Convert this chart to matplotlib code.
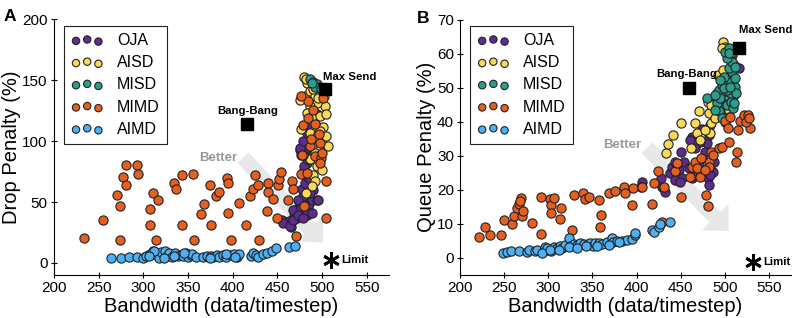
import matplotlib
matplotlib.use("Agg")
import matplotlib.pyplot as plt
import numpy as np
from matplotlib.patches import FancyArrowPatch

plt.rcParams['font.family'] = ['Liberation Sans', 'DejaVu Sans']

series_names = ["OJA", "AISD", "MISD", "MIMD", "AIMD"]
series_colors = ["#5e2c8f", "#fbd957", "#2a9d8c", "#e65f1e", "#4db0f5"]

# ---- panel A: bandwidth vs drop penalty ----
a_oja = [(455.6, 34.8), (460.4, 32.9), (465.7, 29.6), (467.9, 34.8), (471.6, 37), (476, 38.4),
         (479, 41), (480.6, 43.8), (483.6, 39.7), (485.8, 42.5), (473, 45.2), (476.9, 47),
         (481.7, 49.3), (475, 50.7), (479, 54.8), (478, 60.3), (480.6, 65.8), (483.6, 71),
         (480, 76.7), (482.8, 82), (485.4, 86.3), (487, 90.4), (476.9, 89), (475.4, 93),
         (468.7, 38.4), (463, 34.2), (468, 43.8), (473.5, 52), (477, 45), (483, 41),
         (485, 48), (488.4, 52), (494, 52), (490.3, 60), (486.6, 68.5), (480, 79.5),
         (483, 85), (484.7, 94.5), (475, 94.5), (479, 100), (488.4, 104), (483, 107),
         (484.7, 111), (494, 122), (495.9, 112), (495.9, 52), (456.7, 33), (464, 30),
         (467, 35.6), (473.5, 39.7), (479, 37), (488.4, 41), (486.6, 57.5)]
a_aisd = [(480, 153), (483, 148), (481, 137), (486.6, 141), (492, 137), (497.8, 134),
          (502, 137), (503.4, 129), (494, 131.5), (486.6, 129), (483, 123), (490.3, 120.5),
          (497.8, 120.5), (505, 122), (500.7, 112), (492, 109.6), (486.6, 107), (495.9, 105.5),
          (494, 101), (499.6, 98.6), (507, 96), (488.4, 96), (492, 90.4), (495.9, 87.7),
          (486.6, 85), (494, 79.5), (499.6, 76.7), (490.3, 72.6), (492, 67), (488.4, 63),
          (482, 57.5), (477, 109.6), (475.4, 134), (497.8, 108), (505, 104), (479, 89),
          (495.9, 135.6), (489.5, 142.5), (481.7, 150.7)]
a_misd = [(486.6, 150.7), (490.3, 148.5), (494, 146.6), (497, 144.7), (492, 144.7),
          (488.4, 147.4), (498.5, 142.5)]
a_mimd = [(234, 20.5), (255, 35), (270, 55.6), (274, 47), (274, 19), (277, 70.7), (280.6, 80),
          (280.6, 63.6), (293, 80), (294, 73), (307, 31), (307, 44), (311, 57.5), (314, 18.6),
          (316, 52), (334, 66), (336.5, 61), (343, 31), (343, 72.6), (356, 73.4), (357, 18.6),
          (365, 40.5), (368, 48), (374.6, 63.6), (375.4, 31.5), (381, 55), (384.7, 58.6),
          (394, 70), (394.4, 66), (395, 41), (398.5, 18.6), (406.7, 48.8), (415, 31.5),
          (419, 54.8), (423, 60.8), (425, 72), (428, 63.6), (430, 19), (438, 42.7),
          (440, 58.6), (440, 65.7), (445.5, 52.6), (450, 37), (451, 63.8), (452, 68.5),
          (453.7, 75), (462, 51.5), (466, 67), (468, 61), (471, 22), (476, 73.4), (478, 89),
          (479, 113), (483, 74), (486.6, 96), (488, 102), (484.7, 133), (484.7, 119),
          (490, 126), (492, 87.7), (497.8, 98.6), (498.5, 86), (499.6, 90), (500.7, 135.6),
          (504, 67), (505, 37), (497.8, 82), (480, 46.6), (492, 114.5), (497, 105.5),
          (477, 137)]
a_aimd = [(264, 3.6), (274.6, 3.6), (283.6, 4.4), (292.5, 4.4), (300, 3.8), (302.6, 6),
          (308, 7.4), (311, 10), (313.8, 6.6), (317.5, 3.6), (319.4, 9.3), (324, 10),
          (327, 6), (329, 8.2), (332.5, 5), (336, 8.2), (338.8, 5.5), (341.8, 6.8),
          (344.8, 5.5), (347.4, 7.7), (350.4, 5), (353.7, 6.3), (354.9, 7.4), (358.6, 4.4),
          (367, 4.4), (371.6, 5.5), (376, 6), (378, 5), (382, 6.6), (384.7, 5), (389.6, 6.6),
          (393, 5), (397.8, 6.6), (401.5, 7.4), (405, 5), (407, 7.4), (420, 5.5), (423, 8.2),
          (425.7, 6.6), (428.4, 5), (434, 7.4), (438.8, 8.2), (444.4, 10), (449, 11.8),
          (463, 12.9), (469.4, 13.7), (312, 10), (306, 5.5), (323, 3.8), (334, 5.5),
          (345.5, 7.7), (375, 3.8), (392, 7.4), (403, 4.4)]

# ---- panel B: bandwidth vs queue penalty ----
b_oja = [(406.2, 22.4), (405.4, 20.9), (428.9, 20.9), (432.7, 19.5), (428.1, 23.6),
         (438.3, 24.9), (440.2, 26.8), (444, 28.3), (447.8, 25.8), (451.6, 23.4),
         (450.9, 31.2), (453.5, 28.3), (459.2, 26.3), (463, 23.4), (466.8, 24.4),
         (471.3, 27.3), (474.3, 29.3), (477.3, 31.2), (480, 33.7), (481.9, 36.1),
         (483.8, 39), (472.4, 34.1), (466.8, 32.2), (463, 35.6), (461.1, 34.6),
         (476.3, 25.3), (481.2, 23.4), (483.8, 26.3), (487.6, 28.3), (486.4, 25.3),
         (481.9, 21.4), (483.8, 24.4), (474.3, 38), (480, 38), (444, 22.9), (449.8, 22.4),
         (515.9, 55.7), (508.3, 59.6)]
b_aisd = [(433.4, 30.7), (435.7, 33.4), (441.4, 36.1), (450.9, 39.5), (466.8, 39.5),
          (470.6, 43), (468.6, 36.6), (462.2, 32.4), (472.4, 34.6), (481.9, 42.5),
          (481.1, 45.7), (484.9, 44.9), (484.9, 39.5), (483.8, 36.6), (488.7, 47.4),
          (493.2, 44.9), (495.1, 43), (500.8, 42), (504.6, 43.4), (492.5, 53.7),
          (497.8, 63.5), (500.8, 62), (497, 61.5), (507.2, 60.1), (504.2, 58.6),
          (498.6, 55.2), (495.1, 42), (489.4, 41), (478.1, 37.6)]
b_misd = [(480, 46.9), (491.3, 48.3), (493.2, 49.3), (497, 50.8), (500.8, 51.8),
          (504.6, 53.2), (508.3, 54.7), (510.2, 56.7), (507.5, 51.8), (512.1, 50.3),
          (510.2, 47.8), (504.6, 47.8), (500.8, 46.4), (497, 45.4), (493.2, 43),
          (502.7, 44.9), (507.5, 45.9), (509, 43.9), (504.6, 41.5), (500.8, 40), (497, 41),
          (491.3, 45.4), (489.4, 43.4), (495.1, 46.9), (502.7, 49.3), (498.9, 53.2),
          (504.6, 55.7), (508.3, 57.6), (502.7, 58.6), (500.8, 60.6), (504.6, 61.5),
          (512.1, 56.2), (511.4, 52.7), (512.9, 48.3), (510.2, 45.4), (489.4, 47.8),
          (498.9, 49.8), (506.5, 50.3), (495.1, 52.2), (504.6, 60.1)]
b_mimd = [(220.8, 6.3), (228.4, 9.2), (234, 6.8), (246.5, 6.8), (249.9, 11.2), (258.6, 9.9),
          (260.5, 12.4), (264.3, 14.6), (267, 15.8), (269.3, 17.5), (270, 12.2),
          (270.8, 13.8), (268, 16.8), (291.9, 18), (281.3, 10.2), (291.9, 7.1), (302, 17.4),
          (303.2, 15.6), (303.2, 13.1), (305.8, 17.7), (314.5, 14.8), (313.5, 11.5),
          (326.5, 8.2), (328.6, 18.5), (338.9, 19.2), (341.9, 17.3), (345.7, 18), (357, 17),
          (360.1, 12.6), (358.9, 9.2), (368.4, 19.2), (375.2, 19.8), (385.4, 20.9),
          (387.3, 19), (394.9, 15.6), (395.6, 20.4), (406.2, 20.9), (417.6, 15.8),
          (419.5, 22.1), (428.9, 10.7), (430.8, 20.9), (424.4, 25.5), (450.9, 18),
          (461.1, 23.9), (463, 26.8), (466, 28.3), (472.4, 23.9), (479.2, 18.5),
          (481.1, 15.4), (484.9, 31.2), (481.9, 28.3), (486.4, 30.2), (493.2, 32.2),
          (497, 32.7), (504.6, 34.1), (514, 31), (512.9, 28.3), (515.2, 37.6), (517.8, 40.2),
          (521.6, 42), (526.5, 42), (529.2, 38.1), (524.3, 40), (527.3, 41), (481.9, 26.8),
          (468.6, 26.3), (473.5, 29.3), (478, 25.8), (444, 25.5), (446, 27.8),
          (500.8, 40.2), (503.8, 38.1), (506.5, 41.5)]
b_aimd = [(248, 1.6), (253, 1.7), (258, 1.9), (267, 1.9), (275.7, 1.7), (277.6, 2.4),
          (284.4, 1.9), (287, 2.4), (294.6, 1.9), (295.7, 3.3), (298.4, 2.8), (303, 2.1),
          (306, 3.3), (309.7, 2.8), (313.5, 3.6), (315.4, 2.8), (319, 3.8), (323.7, 6),
          (324.9, 3.6), (328.7, 4), (332.4, 3.8), (336.2, 4.3), (340, 4), (344.9, 4),
          (347.6, 4.5), (350.6, 3.5), (353.3, 4.3), (357, 4.3), (360.8, 4), (366.5, 4.8),
          (372.2, 6), (373, 4.8), (377.8, 5), (383.5, 5), (389, 5.3), (394.9, 5.6),
          (397.9, 6.8), (398.7, 7.3), (417.6, 8.2), (419.5, 7.7), (425.2, 9), (426.3, 9.9),
          (438.4, 10.5), (292.7, 1.4), (302, 2.4), (311.6, 2.4), (322.9, 3.1), (332.4, 2.8),
          (342.6, 3.5), (355, 3.5), (368.4, 3.8), (379.7, 4.6)]

# reference points: (bang-bang, max send, limit)
a_bangbang, a_maxsend, a_limit = (415.8, 114.2), (503.5, 143), (510, 2.7)
b_bangbang, b_maxsend, b_limit = (460, 49.9), (516.4, 61.7), (532.6, -1.1)

fig = plt.figure(figsize=(7.98, 3.18), dpi=100)
axA = fig.add_axes([54 / 798, 43 / 318, 335 / 798, 255.5 / 318])
axB = fig.add_axes([460.3 / 798, 43 / 318, 330.4 / 798, 255.5 / 318])


def draw_panel(ax, data, refs, ylim, yticks, ylabel, arrow, better_xy):
    # big gray "better" arrow behind the points
    arr = FancyArrowPatch(arrow[0], arrow[1], arrowstyle="simple,head_length=1.4,head_width=2.7,tail_width=1.1",
                          mutation_scale=10, color="#e8e8e8", lw=0, shrinkA=0, shrinkB=0, zorder=1)
    ax.add_patch(arr)
    ax.text(better_xy[0], better_xy[1], "Better", color="#999999", fontsize=9.5,
            fontweight="bold", ha="center", va="center", zorder=2)

    for name, col, pts in zip(series_names, series_colors, data):
        pts = np.array(pts)
        ax.scatter(pts[:, 0], pts[:, 1], s=44, c=col, edgecolors="#222222",
                   linewidths=0.8, label=name, zorder=3)

    bang, maxs, lim = refs
    ax.plot(*bang, marker="s", ms=9, color="black", zorder=4)
    ax.plot(*maxs, marker="s", ms=9, color="black", zorder=4)
    ax.plot(*lim, marker=(6, 2, 0), ms=12, mew=2.0, color="black", zorder=4)

    ax.set_xlim(200, 575)
    ax.set_ylim(*ylim)
    ax.set_xticks([200, 250, 300, 350, 400, 450, 500, 550])
    ax.set_yticks(yticks)
    ax.spines["top"].set_visible(False)
    ax.spines["right"].set_visible(False)
    ax.tick_params(direction="inout", length=5, width=0.8, labelsize=11, pad=2)
    ax.set_xlabel("Bandwidth (data/timestep)", fontsize=14.5, labelpad=1)
    ax.set_ylabel(ylabel, fontsize=14.5, labelpad=1)

    leg = ax.legend(loc="upper left", bbox_to_anchor=(0.03, 0.975), borderaxespad=0,
                    scatterpoints=3, markerscale=0.8, fontsize=11.5, handlelength=2.0,
                    handletextpad=0.85, labelspacing=0.45, borderpad=0.45,
                    fancybox=False, framealpha=1)
    leg.get_frame().set_edgecolor("#222222")
    leg.get_frame().set_linewidth(0.8)
    return ax


draw_panel(axA, [a_oja, a_aisd, a_misd, a_mimd, a_aimd], (a_bangbang, a_maxsend, a_limit),
           (-10, 200), [0, 50, 100, 150, 200], "Drop Penalty (%)",
           ((411.6, 86.5), (501, 16.7)), (383.6, 86))
draw_panel(axB, [b_oja, b_aisd, b_misd, b_mimd, b_aimd], (b_bangbang, b_maxsend, b_limit),
           (-5, 70), [0, 10, 20, 30, 40, 50, 60, 70], "Queue Penalty (%)",
           ((412, 32.3), (504.6, 7.9)), (383.7, 33.2))

lab = dict(fontsize=8.2, fontweight="bold", zorder=5)
axA.text(417.3, 124.6, "Bang-Bang", ha="center", va="center", **lab)
axA.text(501, 152.6, "Max Send", ha="left", va="center", **lab)
axA.text(522, 2.7, "Limit", ha="left", va="center", **lab)
axB.text(457, 54.1, "Bang-Bang", ha="center", va="center", **lab)
axB.text(516.4, 66.9, "Max Send", ha="left", va="center", **lab)
axB.text(544, -1.1, "Limit", ha="left", va="center", **lab)

fig.text(4 / 798, 1 - 9 / 318, "A", fontsize=12.5, fontweight="bold", va="top", ha="left")
fig.text(417 / 798, 1 - 11 / 318, "B", fontsize=12.5, fontweight="bold", va="top", ha="left")

fig.savefig("out.png", dpi=100)
